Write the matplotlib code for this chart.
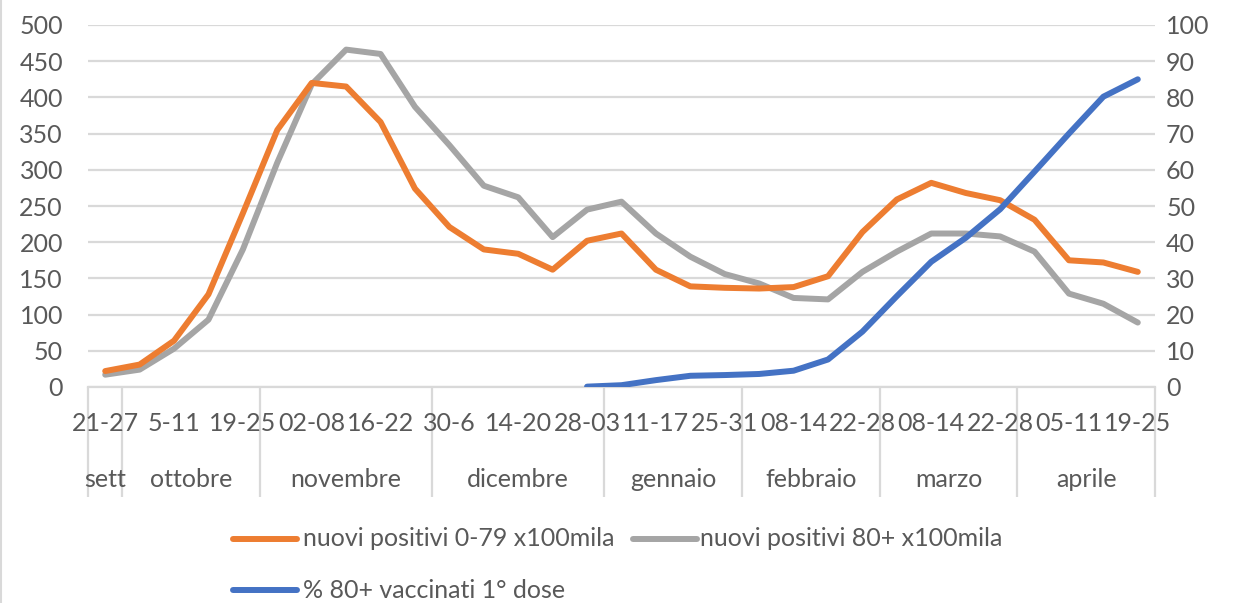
import numpy as np
import matplotlib
matplotlib.use('Agg')
import matplotlib.pyplot as plt
from matplotlib.lines import Line2D

plt.rcParams['font.family'] = ['Lato', 'DejaVu Sans']

# weekly categories, sept 2020 -> apr 2021
weeks = ['21-27', '28-04', '5-11', '12-18', '19-25', '26-01', '02-08', '09-15',
         '16-22', '23-29', '30-6', '7-13', '14-20', '21-27', '28-03', '04-10',
         '11-17', '18-24', '25-31', '01-07', '08-14', '15-21', '22-28', '01-07',
         '08-14', '15-21', '22-28', '29-04', '05-11', '12-18', '19-25']
months = ['sett', 'ottobre', 'novembre', 'dicembre', 'gennaio', 'febbraio', 'marzo', 'aprile']
weeks_per_month = [1, 4, 5, 5, 4, 4, 4, 4]

pos_0_79 = [22, 31, 64, 128, 240, 355, 420, 415, 366, 274, 221, 190, 184, 162, 202, 212,
            162, 139, 137, 136, 138, 153, 214, 259, 282, 268, 258, 231, 175, 172, 159]
pos_80 = [17, 24, 53, 93, 190, 310, 418, 466, 460, 387, 334, 278, 262, 207, 245, 256,
          212, 180, 156, 143, 123, 121, 159, 187, 212, 212, 208, 187, 129, 115, 89]
vacc_80 = [np.nan] * 14 + [0.1, 0.5, 1.9, 3.1, 3.3, 3.6, 4.5, 7.6, 15.3, 25.1, 34.6,
                           41.2, 49.1, 59.5, 70, 80.2, 85]

labels = ['nuovi positivi 0-79 x100mila', 'nuovi positivi 80+ x100mila', '% 80+ vaccinati 1° dose']
c_orange = '#ED7D31'
c_gray = '#A5A5A5'
c_blue = '#4472C4'
c_text = '#595959'
c_grid = '#D9D9D9'
fs = 18

W, H = 1234, 603
fig = plt.figure(figsize=(W / 100, H / 100), dpi=100)
ax = fig.add_axes([88 / W, 1 - 387 / H, (1155 - 88) / W, (387 - 25) / H])
ax2 = ax.twinx()

x = np.arange(len(weeks))
lw = 4.3
ax.plot(x, pos_0_79, color=c_orange, lw=lw, solid_capstyle='round', solid_joinstyle='round', zorder=3)
ax.plot(x, pos_80, color=c_gray, lw=lw, solid_capstyle='round', solid_joinstyle='round', zorder=2)
ax2.plot(x, vacc_80, color=c_blue, lw=lw, solid_capstyle='round', solid_joinstyle='round', zorder=4)

ax.set_xlim(-0.5, len(weeks) - 0.5)
ax.set_ylim(0, 500)
ax.set_yticks(np.arange(0, 501, 50))
ax2.set_ylim(0, 100)
ax2.set_yticks(np.arange(0, 101, 10))
ax.yaxis.grid(True, color=c_grid, lw=1.6)
ax.set_axisbelow(True)

for a in (ax, ax2):
    for s in a.spines.values():
        s.set_visible(False)
ax.spines['bottom'].set_visible(True)
ax.spines['bottom'].set_color(c_grid)
ax.spines['bottom'].set_linewidth(1.6)

ax.tick_params(axis='y', length=0, pad=18, labelsize=fs, labelcolor=c_text)
ax2.tick_params(axis='y', length=0, pad=8, labelsize=fs, labelcolor=c_text)

# week labels every other week
ax.set_xticks(x[::2])
ax.set_xticklabels(weeks[::2])
ax.tick_params(axis='x', length=0, pad=18, labelsize=fs, labelcolor=c_text)

# month level of the category axis
bounds = np.concatenate([[0], np.cumsum(weeks_per_month)]) - 0.5
centers = (bounds[:-1] + bounds[1:]) / 2
sec = ax.secondary_xaxis('bottom')
sec.spines['bottom'].set_visible(False)
sec.set_xticks(bounds)
sec.set_xticklabels([''] * len(bounds))
sec.tick_params(axis='x', which='major', length=79, width=1.6, color=c_grid)
sec.set_xticks(centers, minor=True)
sec.set_xticklabels(months, minor=True)
sec.tick_params(axis='x', which='minor', length=0, pad=58, labelsize=fs, labelcolor=c_text)

# legend
entries = [(233, 539, 303, c_orange, labels[0]),
           (633, 539, 700, c_gray, labels[1]),
           (233, 590, 303, c_blue, labels[2])]
for x0, y0, tx, col, lab in entries:
    fig.add_artist(Line2D([x0 / W, (x0 + 64) / W], [1 - y0 / H, 1 - y0 / H], color=col, lw=lw,
                          solid_capstyle='round', transform=fig.transFigure))
    fig.text(tx / W, 1 - y0 / H, lab, fontsize=fs, color=c_text, va='center', ha='left')

# chart border on left edge
fig.add_artist(Line2D([0.5 / W, 0.5 / W], [0, 1], color=c_grid, lw=1.5, transform=fig.transFigure))

fig.savefig('out.png', dpi=100)
